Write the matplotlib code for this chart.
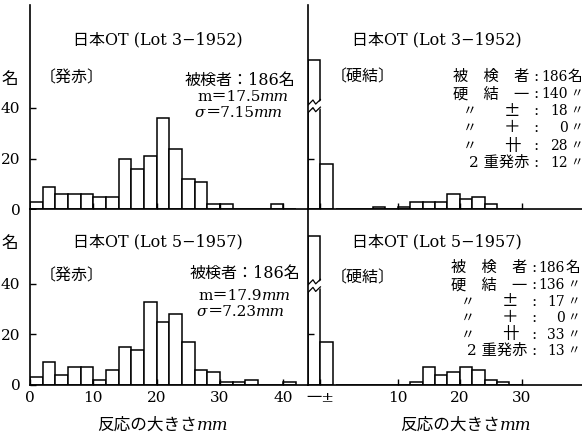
"""
日本OT ツベルクリン反応分布 (Lot 3-1952 / Lot 5-1957) の再現
"""
import numpy as np
import matplotlib
matplotlib.use('Agg')
import matplotlib.pyplot as plt
from matplotlib.patches import Polygon

# ==========================================
# データ
# ==========================================
redness_bins = np.arange(0, 42, 2)          # 発赤 (mm) 区間の左端
lot3_redness = [3, 9, 6, 6, 6, 5, 5, 20, 16, 21, 36, 24, 12, 11, 2, 2, 0, 0, 0, 2, 0]
lot5_redness = [3, 9, 4, 7, 7, 2, 6, 15, 14, 33, 25, 28, 17, 6, 5, 1, 1, 2, 0, 0, 1]

induration_bins = np.arange(0, 30, 2)       # 硬結 (mm) 区間の左端
lot3_induration = [0, 0, 0, 1, 0, 1, 3, 3, 3, 6, 4, 5, 2, 0, 0]
lot5_induration = [0, 0, 0, 0, 0, 0, 1, 7, 4, 5, 7, 6, 2, 1, 0]

neg_counts = [140, 136]      # 硬結 一
pm_counts = [18, 17]         # 硬結 ±

titles = ['日本OT (Lot 3−1952)', '日本OT (Lot 5−1957)']
means = ['17.5', '17.9']
sigmas = ['7.15', '7.23']
ind_labels = ['被　検　者', '硬　結　一', '〃±', '〃＋', '〃卄', '2 重発赤']
ind_values = [
    ['186', '140', '18', '0', '28', '12'],
    ['186', '136', '17', '0', '33', '13'],
]
ind_suffix = ['名', '〃', '〃', '〃', '〃', '〃']

# ==========================================
# 設定
# ==========================================
FONT = ['DejaVu Serif', 'Noto Sans CJK JP']
plt.rcParams['font.family'] = FONT
W, H = 582, 437
BROKEN_H = 59      # 折れ棒の表示高さ
LW = 1.1

fig = plt.figure(figsize=(W / 100, H / 100), dpi=100)


def px_axes(x0, y0, x1, y1):
    return fig.add_axes([x0 / W, 1 - y1 / H, (x1 - x0) / W, (y1 - y0) / H])


# 文字配置用 (ピクセル座標)
ov = fig.add_axes([0, 0, 1, 1], zorder=10)
ov.set_xlim(0, W)
ov.set_ylim(H, 0)
ov.axis('off')


def chain(x, y, pieces, size=11, ha='left'):
    t = ov.text(x, y, pieces[0][0], fontsize=size, style=pieces[0][1], va='center', ha=ha)
    for s, st in pieces[1:]:
        t = ov.annotate(s, xy=(1, 0), xycoords=t, va='bottom', ha='left',
                        fontsize=size, style=st)
    return t


def style_axes(ax):
    for side in ['top', 'right']:
        ax.spines[side].set_visible(False)
    for side in ['left', 'bottom']:
        ax.spines[side].set_linewidth(1.2)
    ax.tick_params(direction='in', length=4, width=1, labelsize=11)
    ax.tick_params(axis='x', pad=4)


def broken_bar(ax, x0, width, center, gap):
    fx = [0, 0.4, 0.62, 1.0]
    fy = [-0.9, 1.1, -0.5, 1.3]
    xs = [x0 + f * width for f in fx]
    lower = [center - gap / 2 + d for d in fy]
    upper = [center + gap / 2 + d for d in fy]
    xp = xs[:-1] + [xs[-1] + 0.4]
    poly = Polygon(list(zip(xp, lower)) + list(zip(xp[::-1], upper[::-1])),
                   closed=True, fc='white', ec='none', zorder=2)
    ax.add_patch(poly)
    ax.plot(xs, lower, color='k', lw=0.9, zorder=2.1)
    ax.plot(xs, upper, color='k', lw=0.9, zorder=2.1)


rows = [(5, 209.5, 80.5), (209.5, 385, 69.4)]
redness = [lot3_redness, lot5_redness]
induration = [lot3_induration, lot5_induration]

for r, (y0, y1, ytop) in enumerate(rows):
    # ---- 発赤 ----
    axl = px_axes(30, y0, 308, y1)
    style_axes(axl)
    axl.bar(redness_bins, redness[r], width=2, align='edge',
            facecolor='white', edgecolor='k', linewidth=LW)
    axl.set_xlim(0, 43.9)
    axl.set_ylim(0, ytop)
    axl.set_yticks([0, 20, 40])
    axl.tick_params(axis='y', pad=7)
    if r == 0:
        axl.set_xticks([10, 20, 30, 40])
    else:
        axl.set_xticks([0, 10, 20, 30, 40])

    # ---- 硬結 ----
    axr = px_axes(308, y0, 582, y1)
    style_axes(axr)
    axr.bar([-4.5, -2.5], [BROKEN_H, pm_counts[r]], width=2, align='edge',
            facecolor='white', edgecolor='k', linewidth=LW)
    axr.bar(induration_bins, induration[r], width=2, align='edge',
            facecolor='white', edgecolor='k', linewidth=LW)
    broken_bar(axr, -4.5, 2, 40.5 if r == 0 else 39, 3)
    axr.set_xlim(-4.5, 39.7)
    axr.set_ylim(0, ytop)
    axr.set_yticks([20, 40])
    axr.set_yticklabels([])
    axr.set_xticks([-2.5, 10, 20, 30])
    axr.set_xticklabels(['一±', '10', '20', '30'])

# ==========================================
# 文字
# ==========================================
title_y = [40, 242]
for r in range(2):
    ov.text(158, title_y[r], titles[r], fontsize=11.5, ha='center', va='center')
    ov.text(437, title_y[r], titles[r], fontsize=11.5, ha='center', va='center')

# 縦軸単位
for y in [79, 243]:
    ov.text(10, y, '名', fontsize=12, ha='center', va='center')

# 〔発赤〕〔硬結〕
for y in [78, 276]:
    ov.text(40, y, '〔発赤〕', fontsize=11.5, ha='left', va='center')
for y in [77, 278]:
    ov.text(331, y, '〔硬結〕', fontsize=11.5, ha='left', va='center')

# 発赤の統計
stat_pos = [((185, 80), (197, 97), (195, 113)), ((190, 273), (198, 296), (197, 312))]
for r in range(2):
    p_n, p_m, p_s = stat_pos[r]
    chain(*p_n, [('被検者：186名', 'normal')], size=11.5)
    chain(*p_m, [('m＝' + means[r], 'normal'), ('mm', 'italic')])
    chain(*p_s, [('σ', 'italic'), ('＝' + sigmas[r], 'normal'), ('mm', 'italic')])

# 硬結の内訳
line_y = [[77, 94, 111, 128, 146, 163], [268, 285, 302, 318, 335, 351]]
col_x = [(529, 536, 568), (527, 534, 565)]
for r in range(2):
    xl, xc, xn = col_x[r]
    for i, lab in enumerate(ind_labels):
        y = line_y[r][i]
        if lab.startswith('〃'):
            ov.text(xl - 59, y, '〃', fontsize=10, ha='center', va='center')
            ov.text(xl - 17, y, lab[1], fontsize=12, ha='center', va='center',
                    family='Noto Sans CJK JP')
        else:
            ov.text(xl, y, lab, fontsize=11, ha='right', va='center')
        ov.text(xc, y, ':', fontsize=11, ha='center', va='center')
        ov.text(xn, y, ind_values[r][i], fontsize=10, ha='right', va='center')
        if i == 0:
            ov.text(xn, y, ind_suffix[i], fontsize=10.5, ha='left', va='center')
        else:
            ov.text(xn + 2, y, ind_suffix[i], fontsize=9, ha='left', va='center')

# 横軸ラベル
chain(97, 425, [('反応の大きさ', 'normal'), ('mm', 'italic')], size=12)
chain(400, 425, [('反応の大きさ', 'normal'), ('mm', 'italic')], size=12)

plt.savefig('out.png', dpi=100)
